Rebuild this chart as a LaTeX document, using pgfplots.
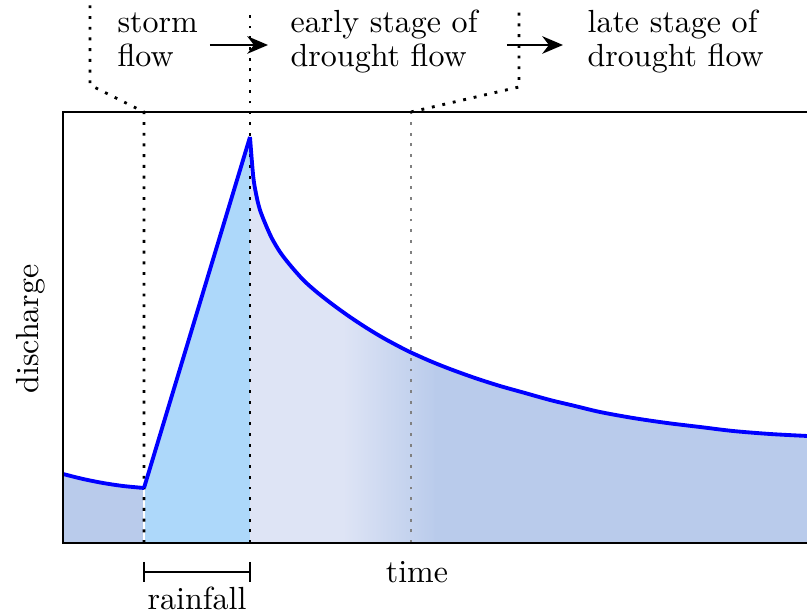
\documentclass[border=0pt]{standalone}
\usepackage{pgfplots}
\pgfplotsset{compat=1.18}
\usepgfplotslibrary{fillbetween}
\usetikzlibrary{arrows.meta}
\definecolor{lowflow}{RGB}{185,203,235}
\definecolor{rainblue}{RGB}{173,216,250}
\definecolor{earlyflow}{RGB}{222,228,245}
\tikzset{dots/.style={line width=0.9pt, dash pattern=on 0.9pt off 2.45pt}}
\pgfplotstableread{
t q
187 406
190.3 366
193.7 346
197 333
202 320
208.7 305
217 291
227 278
240.3 263
253.7 251
270.3 238
287 226
303.7 215
320.3 205
337 196
348 190.5
367 182
387 174
412 165
437 157
462 150
487 143
512 137
537 131
570 125
604 120
637 116
670 112
707 109
744 107
760 106
}\recession
\begin{document}
\begin{tikzpicture}
\begin{axis}[
    x=0.3125pt, y=0.3125pt,
    xmin=0, xmax=760,
    ymin=0, ymax=431,
    xtick=\empty, ytick=\empty,
    axis line style={line width=0.6pt},
    clip=false,
    axis on top,
    fill between/on layer=main,
]

% hydrograph (arbitrary units): recession before the storm, rise, recession after
\addplot[name path=before, draw=none, smooth] coordinates {
    (0,69)(20,64)(40,60)(60,57)(81,55)
};
\addplot[name path=rise, draw=none] coordinates {
    (81,55)(187,406)
};
\addplot[name path=after, draw=none, smooth] table[x=t, y=q] {\recession};
\addplot[fill=earlyflow, draw=none, smooth] table[x=t, y=q] {\recession} \closedcycle;
\path[name path=base] (axis cs:0,0) -- (axis cs:760,0);

\addplot[lowflow] fill between[of=before and base, soft clip={domain=0:81}];
\addplot[rainblue] fill between[of=rise and base, soft clip={domain=81:187}];
\addplot[left color=earlyflow, right color=lowflow, draw=none] fill between[of=after and base, soft clip={domain=280:375}];
\addplot[lowflow] fill between[of=after and base, soft clip={domain=372:760}];
% hide the seam at the start of the gradient
\draw[earlyflow, line width=0.8pt] (axis cs:280,0.5) -- (axis cs:280,229);

% stage boundaries
\draw[white, line width=0.4pt] (axis cs:81,0) -- (axis cs:81,55);
\draw[dots] (axis cs:81,0) -- (axis cs:81,431) -- (axis cs:27,458) -- (axis cs:27,540);
\draw[dots] (axis cs:187,0) -- (axis cs:187,530);
\draw[dots, gray] (axis cs:348,0) -- (axis cs:348,431);
\draw[dots] (axis cs:348,431) -- (axis cs:456,456) -- (axis cs:456,533);

\addplot[color=blue, line width=1.2pt, smooth] coordinates {
    (0,69)(20,64)(40,60)(60,57)(81,55)
};
\addplot[color=blue, line width=1.2pt] coordinates {
    (81,55)(187,406)
};
\addplot[color=blue, line width=1.2pt, smooth] table[x=t, y=q] {\recession};

% stage labels
\node[anchor=base west, inner sep=0pt] at (axis cs:54,510) {storm};
\node[anchor=base west, inner sep=0pt] at (axis cs:54,476) {flow};
\node[anchor=base west, inner sep=0pt] at (axis cs:227,510) {early stage of};
\node[anchor=base west, inner sep=0pt] at (axis cs:227,476) {drought flow};
\node[anchor=base west, inner sep=0pt] at (axis cs:524,510) {late stage of};
\node[anchor=base west, inner sep=0pt] at (axis cs:524,476) {drought flow};
\draw[-{Stealth[length=6.5pt, width=5.5pt]}, line width=0.6pt] (axis cs:147,498) -- (axis cs:205,498);
\draw[-{Stealth[length=6.5pt, width=5.5pt]}, line width=0.6pt] (axis cs:444,498) -- (axis cs:500,498);

% rainfall bracket and axis labels
\draw[line width=0.6pt] (axis cs:81,-19) -- (axis cs:81,-39);
\draw[line width=0.6pt] (axis cs:187,-19) -- (axis cs:187,-39);
\draw[line width=0.6pt] (axis cs:81,-29) -- (axis cs:187,-29);
\node[anchor=base, inner sep=0pt] at (axis cs:134,-67) {rainfall};
\node[anchor=base, inner sep=0pt] at (axis cs:354,-40) {time};
\node[anchor=base, inner sep=0pt, rotate=90] at (axis cs:-25,214) {discharge};

\coordinate (bl) at (axis cs:-63,-73);
\coordinate (tr) at (axis cs:744,543);
\end{axis}
\pgfresetboundingbox
\path[use as bounding box] (bl) rectangle (tr);
\end{tikzpicture}
\end{document}
